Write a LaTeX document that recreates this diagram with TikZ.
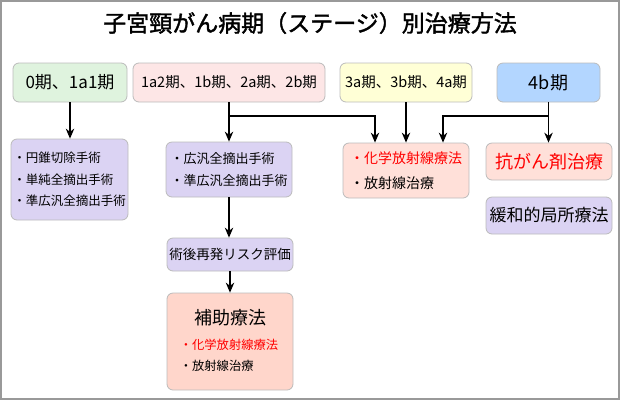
\documentclass[tikz,border=0pt]{standalone}
\usepackage{fontspec}
\setmainfont{Noto Sans CJK JP}
\newfontfamily\titlefont[FakeBold=1.6]{Noto Sans CJK JP}
\usetikzlibrary{arrows.meta}
\definecolor{boxline}{HTML}{BBBBBB}
\definecolor{framecol}{HTML}{999999}
\definecolor{cgreen}{HTML}{DFF3DE}
\definecolor{cpink}{HTML}{FDE6E6}
\definecolor{cyellow}{HTML}{FFFFD6}
\definecolor{cblue}{HTML}{B3D6FF}
\definecolor{clav}{HTML}{DBD3F3}
\definecolor{csalmon}{HTML}{FFE0D9}
\definecolor{csalmonb}{HTML}{FFD6CB}
\definecolor{cred}{HTML}{FF0000}
\newcommand{\fsz}[2]{\fontsize{#1}{#2}\selectfont}
\begin{document}
\begin{tikzpicture}[x=1pt,y=-1pt,
  box/.style={draw=boxline, line width=0.8pt, rounded corners=6pt, inner sep=0pt, align=left},
  arr/.style={-{Stealth[length=10pt,width=8.5pt]}, line width=1.1pt, black},
  frame/.style={draw=framecol, line width=1.5pt}]
\useasboundingbox (0,0) rectangle (620,400);
\draw[frame] (0.75,0.75) rectangle (619,399);

\node[font=\titlefont\fsz{23}{27}] (title) at (310,23) {子宮頸がん病期（ステージ）別治療方法};

% stage boxes
\node[box, fill=cgreen, minimum width=114pt, minimum height=39pt, font=\fsz{17}{20}] (A) at (70,82.5) {0期、1a1期};
\node[box, fill=cpink, minimum width=192pt, minimum height=39pt, font=\fsz{14.5}{17}] (B) at (229,82.5) {1a2期、1b期、2a期、2b期};
\node[box, fill=cyellow, minimum width=132pt, minimum height=39pt, font=\fsz{14.5}{17}] (C) at (406,82.5) {3a期、3b期、4a期};
\node[box, fill=cblue, minimum width=103pt, minimum height=39pt, font=\fsz{18}{21}] (D) at (548.5,82.5) {4b期};

% treatment boxes
\node[box, fill=clav, minimum width=117pt, minimum height=81pt, font=\fsz{12.5}{21.5}] (E) at (69.5,179.5)
  {・円錐切除手術\\・単純全摘出手術\\・準広汎全摘出手術};
\node[box, fill=clav, minimum width=126pt, minimum height=55pt, font=\fsz{13}{22}] (F) at (229,169.5)
  {・広汎全摘出手術\\・準広汎全摘出手術};
\node[box, fill=csalmon, minimum width=126pt, minimum height=55pt, font=\fsz{14}{25}] (G) at (406,170.5)
  {\textcolor{cred}{・化学放射線療法}\\・放射線治療};
\node[box, fill=csalmon, minimum width=126pt, minimum height=37pt, font=\fsz{18}{21}, text=cred] (H) at (549,161.5)
  {抗がん剤治療};
\node[box, fill=clav, minimum width=126pt, minimum height=37pt, font=\fsz{17}{20}] (I) at (549,215.5)
  {緩和的局所療法};
\node[box, fill=clav, minimum width=126pt, minimum height=33pt, font=\fsz{13.5}{16}] (J) at (230,254.5)
  {術後再発リスク評価};
\node[box, fill=csalmonb, minimum width=126pt, minimum height=97pt] (K) at (230,341.5) {};
\node[font=\fsz{18}{21}] (Kt) at (230,318) {補助療法};
\node[align=left, inner sep=0pt, font=\fsz{12.3}{21}] (Kl) at (229,355)
  {\textcolor{cred}{・化学放射線療法}\\・放射線治療};

% connectors
\coordinate (bj) at (229,116);
\coordinate (dj) at (548.5,116);
\draw[arr] (A.south) -- (A.south |- E.north);
\draw[arr] (B.south) -- (B.south |- F.north);
\draw[arr] (bj) -| ([xshift=-31pt]G.north);
\draw[arr] (C.south) -- (C.south |- G.north);
\draw[arr] (D.south) -- (D.south |- H.north);
\draw[arr] (dj) -| ([xshift=37pt]G.north);
\draw[arr] (F.south) -- (F.south |- J.north);
\draw[arr] (J.south) -- (J.south |- K.north);
\end{tikzpicture}
\end{document}
